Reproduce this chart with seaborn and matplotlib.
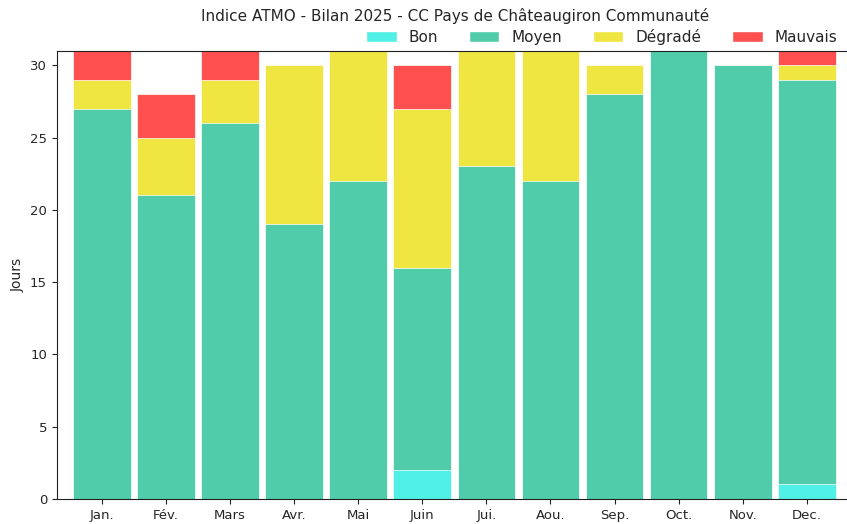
import numpy as np
import pandas as pd
import matplotlib
matplotlib.use("Agg")
import matplotlib.pyplot as plt
from matplotlib.patches import Patch
import seaborn as sns

# Data: number of days per ATMO class, per month
months = ['Jan.', 'Fév.', 'Mars', 'Avr.', 'Mai', 'Juin', 'Jui.', 'Aou.', 'Sep.', 'Oct.', 'Nov.', 'Dec.']
bon = [0, 0, 0, 0, 0, 2, 0, 0, 0, 0, 0, 1]
moyen = [27, 21, 26, 19, 22, 14, 23, 22, 28, 31, 30, 28]
degrade = [2, 4, 3, 11, 9, 11, 8, 9, 2, 0, 0, 1]
mauvais = [2, 3, 2, 0, 0, 3, 0, 0, 0, 0, 0, 1]

classes = ['Bon', 'Moyen', 'Dégradé', 'Mauvais']
colors = ['#50F0E6', '#50CCAA', '#F0E641', '#FF5050']

df = pd.DataFrame({'mois': months, 'Bon': bon, 'Moyen': moyen,
                   'Dégradé': degrade, 'Mauvais': mauvais})
cum = df[classes].cumsum(axis=1)

sns.set_style('ticks')
fig = plt.figure(figsize=(8.47, 5.24), dpi=100)
ax = fig.add_axes([0.067, 0.048, 0.94, 0.855])

# draw cumulative totals from the top class down so each layer sits on the previous
for cls, col in reversed(list(zip(classes, colors))):
    sns.barplot(x=df['mois'], y=cum[cls], color=col, width=0.9,
                edgecolor='white', linewidth=0.5, saturation=1, ax=ax)

ax.set_ylim(0, 31)
ax.set_xlim(-0.705, 11.72)
ax.set_yticks(range(0, 31, 5))
ax.set_xlabel('')
ax.set_ylabel('Jours', fontsize=10)
ax.tick_params(labelsize=9.5, color='#222222')
for s in ['top', 'left', 'bottom']:
    ax.spines[s].set_visible(True)
    ax.spines[s].set_color('#222222')
ax.spines['right'].set_visible(False)

handles = [Patch(facecolor=c, edgecolor='white', label=l) for l, c in zip(classes, colors)]
ax.legend(handles=handles, ncol=4, frameon=False, loc='lower right',
          bbox_to_anchor=(0.9885, 1.0), fontsize=11, borderaxespad=0)
fig.text(0.537, 0.969, 'Indice ATMO - Bilan 2025 - CC Pays de Châteaugiron Communauté',
         fontsize=11, ha='center', va='center')

fig.savefig('out.png', dpi=100)
